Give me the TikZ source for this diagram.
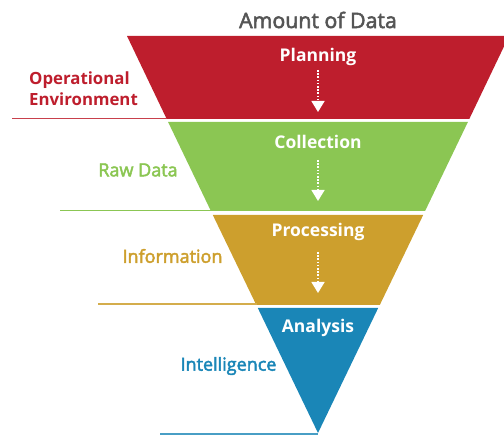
\documentclass[tikz,border=0pt]{standalone}
\usepackage{fontspec}
\setmainfont{Open Sans}
\newfontfamily\semib{Open Sans}[BoldFont={Open Sans},BoldFeatures={FakeBold=2.5}]
\usetikzlibrary{arrows.meta}
\definecolor{cred}{HTML}{BE1E2D}
\definecolor{cgreen}{HTML}{8BC653}
\definecolor{cgold}{HTML}{CD9F2D}
\definecolor{cblue}{HTML}{1A86B7}
\definecolor{cgray}{HTML}{555555}
\begin{document}
\begin{tikzpicture}[x=1pt,y=-1pt,
  band/.style={fill=#1,draw=none},
  stage/.style={text=white,font=\fontsize{17.5}{19}\selectfont\bfseries,inner sep=0pt},
  side/.style={text=#1,font=\fontsize{18}{19}\selectfont\semib\bfseries,inner sep=0pt},
  rule/.style={draw=#1,line width=1.2pt},
  flow/.style={draw=white,line width=1.6pt,dash pattern=on 1.6pt off 1.6pt,-{Triangle[width=13pt,length=11pt]}}]
\useasboundingbox (0,0) rectangle (504,435);
% bands
\fill[band=cred]   (127,36) -- (509,36) -- (469.3,119) -- (166.7,119) -- cycle;
\fill[band=cgreen] (168.1,122) -- (467.9,122) -- (425.1,211) -- (210.9,211) -- cycle;
\fill[band=cgold]  (212.8,215) -- (423.2,215) -- (379.8,305) -- (256.3,305) -- cycle;
\fill[band=cblue]  (257.8,308) -- (378.2,308) -- (318,433) -- cycle;
% title
\node[text=cgray,font=\fontsize{21.3}{22}\selectfont\semib\bfseries,inner sep=0pt] (title) at (318,20) {Amount of Data};
% stage labels
\node[stage] (plan) at (318,57) {Planning};
\node[stage] (coll) at (318,142) {Collection};
\node[stage] (proc) at (318,232) {Processing};
\node[stage] (anal) at (318,328) {Analysis};
% arrows
\coordinate (a1) at (318,70);  \coordinate (b1) at (318,112);
\coordinate (a2) at (318,160); \coordinate (b2) at (318,201);
\coordinate (a3) at (318,252); \coordinate (b3) at (318,293);
\draw[flow] (a1) -- (b1);
\draw[flow] (a2) -- (b2);
\draw[flow] (a3) -- (b3);
% side labels
\node[side=cred,font=\fontsize{16.8}{21}\selectfont\bfseries,align=left,anchor=west] (env) at (29,88.5) {Operational\\Environment};
\node[side=cgreen] (raw) at (138,170) {Raw Data};
\node[side=cgold] (info) at (172.5,256) {Information};
\node[side=cblue] (intel) at (228.5,366) {Intelligence};
% rules
\coordinate (r1) at (12,118.5);  \coordinate (r1e) at (166.7,118.5);
\coordinate (r2) at (60,210.5);  \coordinate (r2e) at (211,210.5);
\coordinate (r3) at (98,304);    \coordinate (r3e) at (256.5,304);
\coordinate (r4) at (160,434);   \coordinate (r4e) at (318,434);
\draw[rule=cred!85!white]   (r1) -- (r1e);
\draw[rule=cgreen]          (r2) -- (r2e);
\draw[rule=cgold!85!white]  (r3) -- (r3e);
\draw[rule=cblue!80!white]  (r4) -- (r4e);
\end{tikzpicture}
\end{document}
